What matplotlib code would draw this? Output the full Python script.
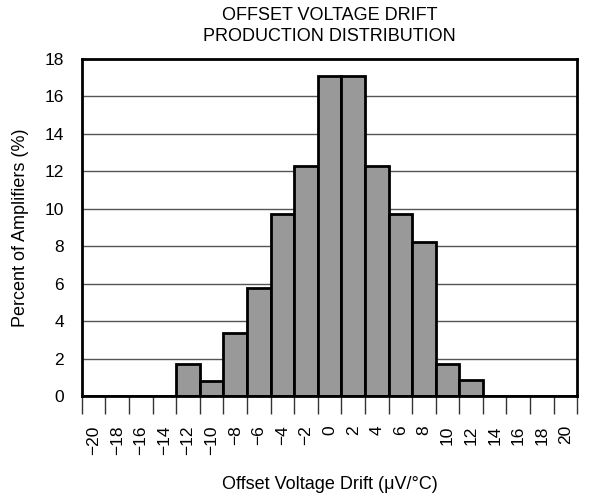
import numpy as np
import matplotlib.pyplot as plt

plt.rcParams['font.family'] = ['Liberation Sans', 'DejaVu Sans']

# drift bins (uV/C) and percent of amplifiers
bins = [-20, -18, -16, -14, -12, -10, -8, -6, -4, -2, 0, 2, 4, 6, 8, 10, 12, 14, 16, 18, 20]
percent = [0, 0, 0, 0, 1.7, 0.8, 3.35, 5.75, 9.7, 12.3, 17.1, 17.1, 12.3, 9.7, 8.2, 1.7, 0.85, 0, 0, 0, 0]
tick_labels = ["\u2212%d" % -b if b < 0 else str(b) for b in bins]

fig = plt.figure(figsize=(5.89, 4.96), dpi=100)
ax = fig.add_axes([0.139, 0.2016, 0.841, 0.6794])

pos = np.arange(len(bins))
for y in range(2, 18, 2):
    ax.axhline(y, color='#555555', lw=1.0, zorder=1)
ax.bar(pos, percent, width=1.0, color='#999999', edgecolor='black', lw=2.0, zorder=2)

ax.set_xlim(-0.5, len(bins) - 0.5)
ax.set_ylim(0, 18)
ax.set_yticks(range(0, 19, 2))
ax.tick_params(axis='y', length=0, labelsize=12.5, pad=13)
ax.set_xticks(pos)
ax.set_xticklabels(tick_labels, rotation=90, fontsize=12.5)
ax.tick_params(axis='x', which='major', length=0, pad=21)
ax.set_xticks(np.arange(-0.5, len(bins), 1.0), minor=True)
ax.tick_params(axis='x', which='minor', length=13, width=1.0, color='#333333')
for s in ax.spines.values():
    s.set_linewidth(2.0)
    s.set_zorder(3)

ax.set_ylabel("Percent of Amplifiers (%)", fontsize=13, labelpad=11)
ax.set_xlabel("Offset Voltage Drift (\u03bcV/\u00b0C)", fontsize=13, labelpad=15)
ax.set_title("OFFSET VOLTAGE DRIFT\nPRODUCTION DISTRIBUTION", fontsize=13, pad=13, linespacing=1.3)

fig.savefig("out.png", dpi=100)
